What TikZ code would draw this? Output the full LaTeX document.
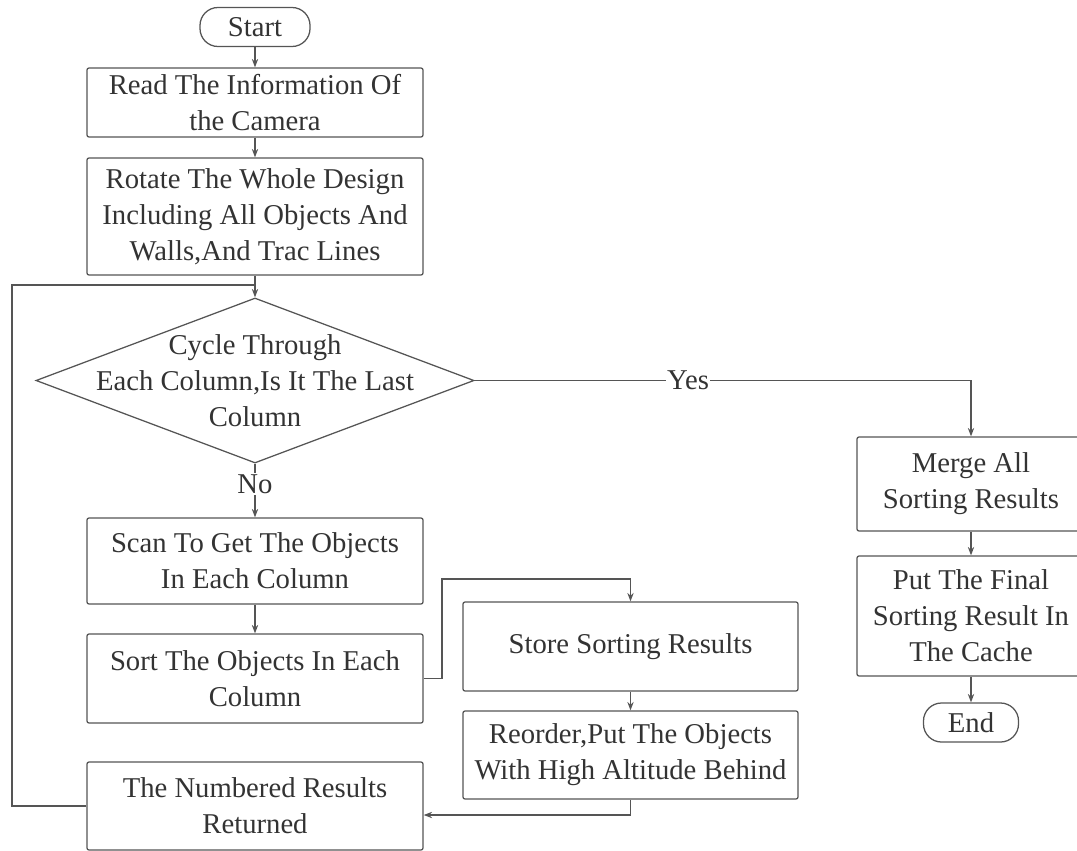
\documentclass[tikz,border=0pt]{standalone}
\usepackage{fontspec}
\setmainfont{Liberation Serif}
\usetikzlibrary{shapes.geometric,arrows.meta}

\definecolor{lineg}{HTML}{555555}
\definecolor{textg}{HTML}{333333}

\tikzset{
	every node/.style={text=textg, font=\fontsize{20.4}{25.6}\selectfont, align=center},
	box/.style={draw=lineg, line width=0.9pt, rounded corners=1.5pt, minimum width=8.4cm, inner sep=2pt},
	term/.style={draw=lineg, line width=0.9pt, rounded corners=0.45cm, minimum height=0.975cm},
	decision/.style={diamond, draw=lineg, line width=0.9pt, minimum width=10.95cm, minimum height=4.125cm, inner sep=0pt},
	link/.style={draw=lineg, line width=0.9pt, -{Stealth[length=6pt,width=4.5pt]}}
}

\begin{document}
\begin{tikzpicture}[x=0.025cm, y=-0.025cm]
		\useasboundingbox (0,0) rectangle (1077,850);

		\node[term, minimum width=2.75cm] (Start) at (255,27) {Start};
		\node[box, minimum height=1.725cm] (Read) at (255,102.5) {Read The Information Of\\the Camera};
		\node[box, minimum height=2.925cm] (Rotate) at (255,216.5) {Rotate The Whole Design\\Including All Objects And\\Walls,And Trac Lines};
		\node[decision] (Cycle) at (255,380.5) {};
		\node (CycleText) at (Cycle.center) {Cycle Through\\Each Column,Is It The Last\\Column};
		\node[box, minimum height=2.15cm] (Scan) at (255,561) {Scan To Get The Objects\\In Each Column};
		\node[box, minimum height=2.225cm] (Sort) at (255,678.5) {Sort The Objects In Each\\Column};
		\node[box, minimum height=2.2cm] (Numbered) at (255,806) {The Numbered Results\\Returned};
		\node[box, minimum width=8.375cm, minimum height=2.225cm] (Store) at (630.5,646.5) {Store Sorting Results};
		\node[box, minimum width=8.375cm, minimum height=2.2cm] (Reorder) at (630.5,755) {Reorder,Put The Objects\\With High Altitude Behind};
		\node[box, minimum width=5.7cm, minimum height=2.35cm] (Merge) at (971,484) {Merge All\\Sorting Results};
		\node[box, minimum width=5.7cm, minimum height=3cm] (Put) at (971,616) {Put The Final\\Sorting Result In\\The Cache};
		\node[term, minimum width=2.375cm] (End) at (971,722.5) {End};

		\coordinate (loop) at (12,285);
		\coordinate (bend) at (442,579);

		\draw[link] (Start) -- (Read);
		\draw[link] (Read) -- (Rotate);
		\draw[link] (Rotate) -- (Cycle.north);
		\draw[link] (Cycle.east) -| node[pos=0.215, fill=white, inner sep=1pt] (Yes) {Yes} (Merge.north);
		\draw[link] (Cycle.south) -- node[pos=0.38, fill=white, inner sep=1pt] (No) {No} (Scan);
		\draw[link] (Scan) -- (Sort);
		\draw[link] (Sort.east) -| (bend) -| (Store.north);
		\draw[link] (Store) -- (Reorder);
		\draw[link] (Reorder.south) |- ([yshift=-0.225cm]Numbered.east);
		\draw[draw=lineg, line width=0.9pt] (Numbered.west) -| (loop) -- (Rotate.south |- loop);
		\draw[link] (Merge) -- (Put);
		\draw[link] (Put) -- (End);
	\end{tikzpicture}
\end{document}
